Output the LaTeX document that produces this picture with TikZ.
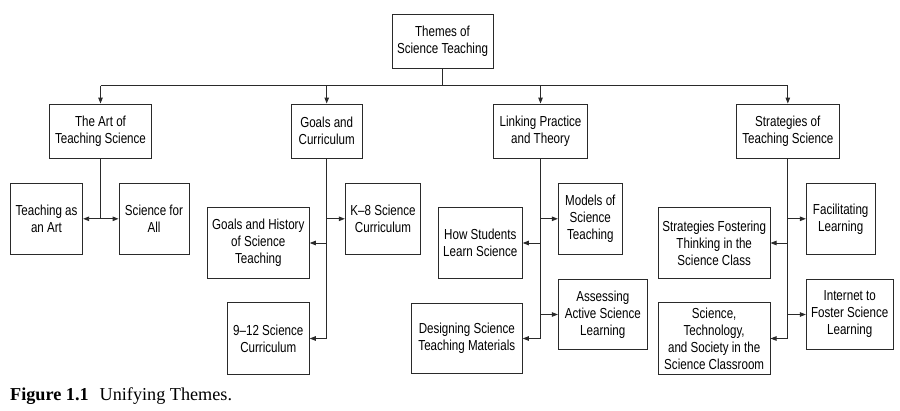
\documentclass[tikz,border=0pt]{standalone}
\usepackage{fontspec}
\setmainfont{Liberation Sans}[FakeStretch=0.8]
\newfontfamily\capfont{Liberation Serif}
\usetikzlibrary{arrows.meta}
\definecolor{ink}{HTML}{2A2A2A}
\tikzset{
  bx/.style={draw=ink, line width=0.9pt, inner sep=0pt, align=center,
    font=\fontsize{14.5}{17}\selectfont, text=black},
  conn/.style={draw=ink, line width=0.9pt},
  arr/.style={conn, -{Triangle[length=6pt,width=4.5pt]}},
}
\begin{document}
\begin{tikzpicture}[x=1pt,y=-1pt]
\useasboundingbox (0,0) rectangle (900,410);
% level 0
\node[bx, minimum width=101pt, minimum height=54pt] (root) at (442.5,41) {Themes of\\Science Teaching};
% level 1
\node[bx, minimum width=102.4pt, minimum height=54pt] (art) at (100.5,131) {The Art of\\Teaching Science};
\node[bx, minimum width=71pt, minimum height=54pt] (goals) at (326.7,131) {Goals and\\Curriculum};
\node[bx, minimum width=94.4pt, minimum height=54pt] (link) at (540.5,131) {Linking Practice\\and Theory};
\node[bx, minimum width=103pt, minimum height=54pt] (strat) at (787.8,131) {Strategies of\\Teaching Science};
% level 2
\node[bx, minimum width=72.4pt, minimum height=71pt] (tart) at (46.5,218.8) {Teaching as\\an Art};
\node[bx, minimum width=70pt, minimum height=71pt] (sfa) at (154,218.8) {Science for\\All};
\node[bx, minimum width=102pt, minimum height=70.6pt] (gh) at (258.3,243) {Goals and History\\of Science\\Teaching};
\node[bx, minimum width=75.4pt, minimum height=71pt] (keight) at (383,218.8) {K–8 Science\\Curriculum};
\node[bx, minimum width=82pt, minimum height=71.3pt] (ntwelve) at (268.3,338.5) {9–12 Science\\Curriculum};
\node[bx, minimum width=84pt, minimum height=70.6pt] (hs) at (480.3,243) {How Students\\Learn Science};
\node[bx, minimum width=64pt, minimum height=71pt] (mod) at (590.3,218.8) {Models of\\Science\\Teaching};
\node[bx, minimum width=111pt, minimum height=70.7pt] (des) at (466.8,338.5) {Designing Science\\Teaching Materials};
\node[bx, minimum width=89pt, minimum height=70.7pt] (ass) at (602.8,314.5) {Assessing\\Active Science\\Learning};
\node[bx, minimum width=111.7pt, minimum height=70.6pt] (sf) at (714.2,243) {Strategies Fostering\\Thinking in the\\Science Class};
\node[bx, minimum width=68.7pt, minimum height=71pt] (fac) at (840.7,218.8) {Facilitating\\Learning};
\node[bx, minimum width=111.7pt, minimum height=71.3pt] (sts) at (714.2,338.5) {Science,\\Technology,\\and Society in the\\Science Classroom};
\node[bx, minimum width=86.7pt, minimum height=70pt] (inet) at (849.7,314.5) {Internet to\\Foster Science\\Learning};
% caption
\node[anchor=base west, inner sep=0pt, font=\capfont\fontsize{18.2}{21}\selectfont] (cap) at (10,400) {\textbf{Figure 1.1}\hspace{0.6em}Unifying Themes.};
% bus
\coordinate (bus) at (442.5,85.7);
\draw[conn] (root.south) -- (root.south |- bus);
\draw[conn] (art.north |- bus) -- (strat.north |- bus);
\foreach \n in {art,goals,link,strat}
  \draw[arr] (\n.north |- bus) -- (\n.north);
% art group
\draw[conn] (art.south) -- (art.south |- tart.east);
\draw[arr] (art.south |- tart.east) -- (tart.east);
\draw[arr] (art.south |- sfa.west) -- (sfa.west);
% goals group
\draw[conn] (goals.south) -- (goals.south |- ntwelve.east);
\draw[arr] (goals.south |- keight.west) -- (keight.west);
\draw[arr] (goals.south |- gh.east) -- (gh.east);
\draw[arr] (goals.south |- ntwelve.east) -- (ntwelve.east);
% link group
\draw[conn] (link.south) -- (link.south |- des.east);
\draw[arr] (link.south |- mod.west) -- (mod.west);
\draw[arr] (link.south |- hs.east) -- (hs.east);
\draw[arr] (link.south |- ass.west) -- (ass.west);
\draw[arr] (link.south |- des.east) -- (des.east);
% strat group
\draw[conn] (strat.south) -- (strat.south |- sts.east);
\draw[arr] (strat.south |- fac.west) -- (fac.west);
\draw[arr] (strat.south |- sf.east) -- (sf.east);
\draw[arr] (strat.south |- inet.west) -- (inet.west);
\draw[arr] (strat.south |- sts.east) -- (sts.east);
\end{tikzpicture}
\end{document}
